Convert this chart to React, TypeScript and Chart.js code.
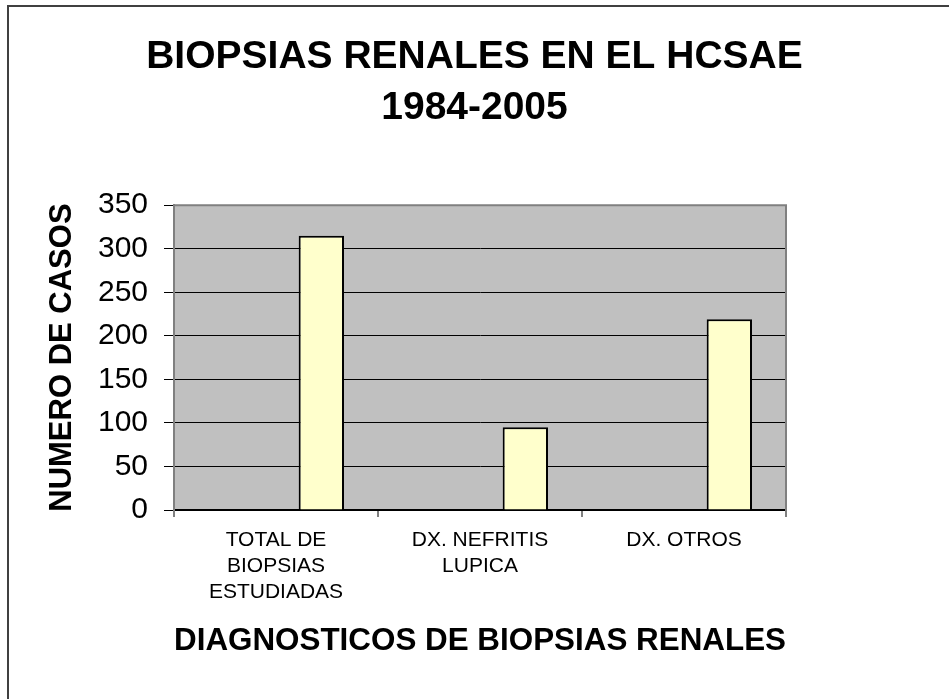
import React, { useEffect, useRef } from "react";
import { Chart, registerables } from "chart.js";

Chart.register(...registerables);

const titleLines = ["BIOPSIAS RENALES EN EL HCSAE", "1984-2005"];
const categories = [
  ["TOTAL DE", "BIOPSIAS", "ESTUDIADAS"],
  ["DX. NEFRITIS", "LUPICA"],
  ["DX. OTROS"],
];
const emptySeriesA: (number | null)[] = [null, null, null];
const emptySeriesB: (number | null)[] = [null, null, null];
const casos = [315, 95, 219];
const yMin = 0;
const yMax = 350;
const yStep = 50;
const xTitle = "DIAGNOSTICOS DE BIOPSIAS RENALES";
const yTitle = "NUMERO DE CASOS";

const FONT = 'Arial, "Liberation Sans", sans-serif';

const framePlugin = {
  id: "framePlugin",
  beforeDraw(chart: any) {
    const { ctx, chartArea } = chart;
    ctx.save();
    ctx.fillStyle = "#ffffff";
    ctx.fillRect(0, 0, chart.width, chart.height);
    ctx.fillStyle = "#C0C0C0";
    ctx.fillRect(chartArea.left, chartArea.top, chartArea.right - chartArea.left, chartArea.bottom - chartArea.top);
    ctx.restore();
  },
  beforeDatasetsDraw(chart: any) {
    const { ctx, chartArea } = chart;
    ctx.save();
    ctx.strokeStyle = "#808080";
    ctx.lineWidth = 2;
    ctx.beginPath();
    ctx.moveTo(chartArea.left, chartArea.top);
    ctx.lineTo(chartArea.right, chartArea.top);
    ctx.lineTo(chartArea.right, chartArea.bottom + 7);
    ctx.stroke();
    ctx.restore();
  },
  afterDraw(chart: any) {
    const { ctx } = chart;
    ctx.save();
    ctx.strokeStyle = "#404040";
    ctx.lineWidth = 2;
    ctx.beginPath();
    ctx.moveTo(8, chart.height);
    ctx.lineTo(8, 6);
    ctx.lineTo(chart.width, 6);
    ctx.stroke();
    ctx.restore();
  },
};

export default function App() {
  const ref = useRef<HTMLCanvasElement>(null);
  useEffect(() => {
    if (!ref.current) return;
    const chart = new Chart(ref.current, {
      type: "bar",
      data: {
        labels: categories as any,
        datasets: [
          { label: "A", data: emptySeriesA, backgroundColor: "#FFFFCC", borderColor: "#000", borderWidth: 2 },
          { label: "B", data: emptySeriesB, backgroundColor: "#FFFFCC", borderColor: "#000", borderWidth: 2 },
          { label: "Casos", data: casos, backgroundColor: "#FFFFCC", borderColor: "#000", borderWidth: 2 },
        ],
      },
      options: {
        responsive: false,
        animation: false,
        devicePixelRatio: 1,
        layout: { padding: 0 },
        datasets: { bar: { categoryPercentage: 2 / 3, barPercentage: 1 } },
        plugins: {
          legend: { display: false },
          tooltip: { enabled: false },
          title: {
            display: true,
            text: titleLines,
            color: "#000",
            font: { family: FONT, size: 39, weight: "bold", lineHeight: 1.31 },
            padding: { top: 32, bottom: 71 },
          },
        },
        scales: {
          x: {
            afterFit: (scale: any) => {
              scale.height = 189;
            },
            grid: {
              drawOnChartArea: false,
              drawTicks: true,
              tickLength: 7,
              color: "#808080",
              lineWidth: 2,
              offset: true,
            },
            border: { display: true, color: "#000", width: 2 },
            ticks: {
              color: "#000",
              padding: 10,
              maxRotation: 0,
              autoSkip: false,
              font: { family: FONT, size: 21, lineHeight: 1.25 },
            },
            title: {
              display: true,
              text: xTitle,
              color: "#000",
              font: { family: FONT, size: 32, weight: "bold", lineHeight: 1.2 },
              padding: { top: 0, bottom: 39 },
            },
          },
          y: {
            min: yMin,
            max: yMax,
            afterFit: (scale: any) => {
              scale.width = 174;
            },
            grid: {
              color: (c: any) => (c.tick && c.tick.value === yMax ? "#808080" : "#000"),
              tickColor: "#000",
              lineWidth: 1,
              tickLength: 10,
              drawTicks: true,
            },
            border: { display: true, color: "#808080", width: 2 },
            ticks: {
              stepSize: yStep,
              color: "#000",
              padding: 16,
              font: { family: FONT, size: 30 },
            },
            title: {
              display: true,
              text: yTitle,
              color: "#000",
              font: { family: FONT, size: 31, weight: "bold", lineHeight: 1.2 },
              padding: { top: 44, bottom: 0 },
            },
          },
          yRightSpace: {
            position: "right",
            afterFit: (scale: any) => {
              scale.width = 163;
            },
            grid: { display: false, drawOnChartArea: false, drawTicks: false },
            border: { display: false },
            ticks: { display: false },
            title: { display: false },
          },
        },
      },
      plugins: [framePlugin],
    });
    return () => chart.destroy();
  }, []);
  return (
    <div style={{ position: "fixed", left: 0, top: 0, width: 949, height: 699, background: "#fff" }}>
      <canvas ref={ref} width={949} height={699} style={{ display: "block" }} />
    </div>
  );
}
